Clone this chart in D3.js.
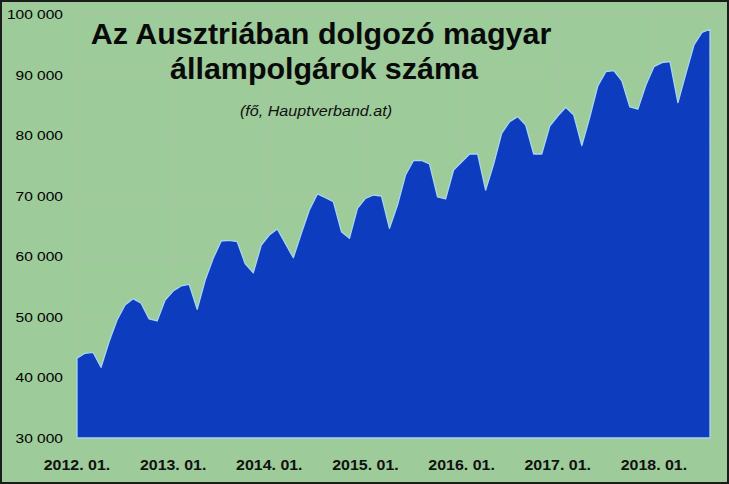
<!DOCTYPE html>
<html>
<head>
<meta charset="utf-8">
<script src="https://cdn.jsdelivr.net/npm/d3@7"></script>
<style>
  body { margin: 0; background: #9dcb9a; }
  svg { display: block; font-family: 'Liberation Sans', Arial, sans-serif; }
</style>
</head>
<body>
<svg width="729" height="484"></svg>
<script>
const svg = d3.select('svg');

// monthly figures, 2012. 01. - 2018. 08.
const years = [2012, 2013, 2014, 2015, 2016, 2017, 2018];
const monthNums = ['01', '02', '03', '04', '05', '06', '07', '08', '09', '10', '11', '12'];
const workers = [
    43160, 43980, 44150, 41670, 45900, 49480, 51960, 53000, 52240, 49650, 49320, 52780,
    54270, 55100, 55380, 51250, 56090, 59670, 62520, 62640, 62410, 58740, 57290, 61860,
    63510, 64500, 62140, 59770, 63800, 67640, 70280, 69670, 69010, 64060, 62970, 67920,
    69570, 70120, 69950, 64620, 68470, 73420, 75810, 75810, 75240, 69790, 69460, 74250,
    75570, 76890, 76890, 70940, 75240, 80310, 82230, 83050, 81680, 76890, 76890, 81510,
    83160, 84600, 83330, 78290, 83000, 88120, 90480, 90640, 88970, 84650, 84290, 88280,
    91300, 91960, 92160, 85360, 90210, 94880, 96950, 97480
];
const yTicks = [30000, 40000, 50000, 60000, 70000, 80000, 90000, 100000];
const titleLines = ['Az Ausztriában dolgozó magyar', 'állampolgárok száma'];
const subtitle = '(fő, Hauptverband.at)';

let months = [];
years.forEach(yr => monthNums.forEach(m => months.push(yr + '. ' + m + '.')));
months = months.slice(0, workers.length);
const data = months.map((m, i) => ({ month: m, value: workers[i] }));
const xTickLabels = months.filter(m => m.endsWith(' 01.'));

const plotLeft = 77, plotRight = 722, lastX = 710;
const x = d3.scalePoint().domain(months).range([plotLeft, lastX]);
const y = d3.scaleLinear().domain([30000, 100000]).range([438, 14]);

// background + frame
svg.append('rect').attr('width', 729).attr('height', 484).attr('fill', '#9dcb9a');
svg.append('rect')
    .attr('x', 1).attr('y', 1).attr('width', 727).attr('height', 482)
    .attr('fill', 'none').attr('stroke', '#1c1c1c').attr('stroke-width', 2);

// gridlines
const grid = svg.append('g').attr('stroke', '#abc4a6').attr('stroke-width', 1);
grid.selectAll('.hg').data(yTicks.slice(1)).enter().append('line')
    .attr('x1', plotLeft).attr('x2', plotRight)
    .attr('y1', d => y(d) + 0.5).attr('y2', d => y(d) + 0.5);
grid.selectAll('.vg').data(xTickLabels).enter().append('line')
    .attr('x1', d => x(d) + 0.5).attr('x2', d => x(d) + 0.5)
    .attr('y1', y(100000)).attr('y2', y(30000));
grid.append('line')
    .attr('x1', plotRight + 0.5).attr('x2', plotRight + 0.5)
    .attr('y1', y(100000)).attr('y2', y(30000));

// area
const area = d3.area()
    .x(d => x(d.month))
    .y0(y(30000))
    .y1(d => y(d.value));
svg.append('path')
    .datum(data)
    .attr('d', area)
    .attr('fill', '#0d3cbf')
    .attr('stroke', '#a9d6ec')
    .attr('stroke-width', 1.3)
    .attr('stroke-linejoin', 'round');

// stretched text helper (the original text is a bit wide)
const label = (g, txt, tx, ty, sx) => g.append('text')
    .attr('transform', `translate(${tx},${ty}) scale(${sx},1)`)
    .text(txt);

// y axis labels
const yAxis = svg.append('g')
    .attr('font-size', 13.5).attr('fill', '#000').attr('text-anchor', 'end');
yTicks.forEach(t => {
    label(yAxis, d3.format(',')(t).replace(/,/g, ' '), 63, y(t) + 5, 1.15);
});

// x axis labels
const xAxis = svg.append('g')
    .attr('font-size', 14).attr('font-weight', 'bold').attr('fill', '#111').attr('text-anchor', 'middle');
xTickLabels.forEach(m => {
    label(xAxis, m, x(m), 470, 1.14);
});

// titles
const titles = svg.append('g').attr('text-anchor', 'middle').attr('fill', '#0a0a0a');
titles.attr('font-size', 29).attr('font-weight', 'bold');
label(titles, titleLines[0], 321, 43.5, 1.05);
label(titles, titleLines[1], 324, 78.5, 1.05);

const sub = svg.append('g')
    .attr('text-anchor', 'middle').attr('font-size', 14).attr('font-style', 'italic').attr('fill', '#111');
label(sub, subtitle, 316, 116, 1.15);
</script>
</body>
</html>
